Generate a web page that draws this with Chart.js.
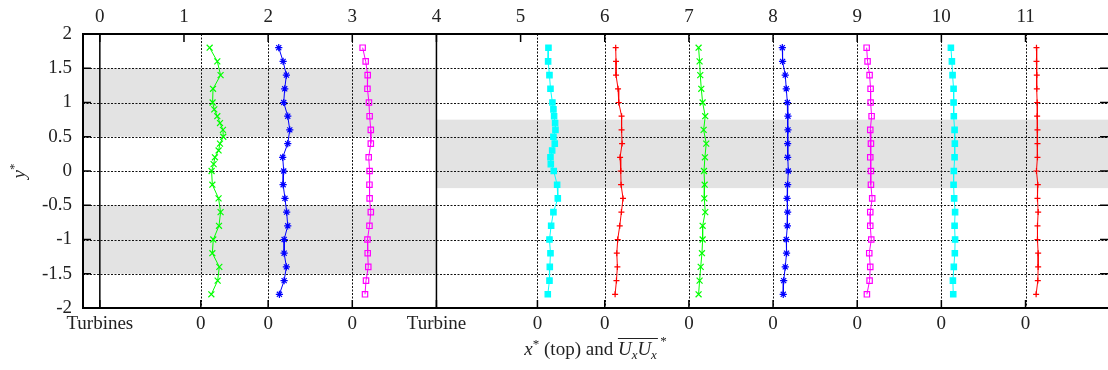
<!DOCTYPE html>
<html>
<head>
<meta charset="utf-8">
<title>Profili</title>
<script src="https://cdn.jsdelivr.net/npm/chart.js@4.4.1/dist/chart.umd.min.js"></script>
<style>
  html, body { margin: 0; padding: 0; background: #fff; }
  #wrapper { width: 1108px; height: 370px; }
</style>
</head>
<body>
<div id="wrapper"><canvas id="grafico" width="1108" height="370"></canvas></div>
<script>
"use strict"

// measuring heights (coarse = every 0.2, fine = 0.1 between 1 and 0)
const yCoarse = [1.8, 1.6, 1.4, 1.2, 1.0, 0.8, 0.6, 0.4, 0.2, 0.0, -0.2, -0.4, -0.6, -0.8, -1.0, -1.2, -1.4, -1.6, -1.8];
const yFine = [1.8, 1.6, 1.4, 1.2, 1.0, 0.9, 0.8, 0.7, 0.6, 0.5, 0.4, 0.3, 0.2, 0.1, 0.0, -0.2, -0.4, -0.6, -0.8, -1.0, -1.2, -1.4, -1.6, -1.8];

// x* of every profile
const stations = [1.2, 2, 3, 5.2, 6, 7, 8, 9, 10, 11];

// UxUx* (added to its station)
const u12 = [0.105, 0.196, 0.235, 0.145, 0.14, 0.16, 0.196, 0.228, 0.263, 0.267, 0.228, 0.211, 0.168, 0.152, 0.128, 0.137, 0.211, 0.235, 0.216, 0.148, 0.137, 0.22, 0.2, 0.125];
const u20 = [0.126, 0.178, 0.217, 0.197, 0.185, 0.233, 0.257, 0.233, 0.173, 0.185, 0.178, 0.2, 0.22, 0.233, 0.19, 0.19, 0.217, 0.19, 0.134];
const u30 = [0.123, 0.159, 0.183, 0.18, 0.198, 0.206, 0.22, 0.22, 0.195, 0.206, 0.204, 0.206, 0.22, 0.204, 0.18, 0.183, 0.19, 0.163, 0.151];
const u52 = [0.131, 0.127, 0.143, 0.155, 0.178, 0.19, 0.198, 0.21, 0.214, 0.19, 0.206, 0.175, 0.155, 0.159, 0.194, 0.234, 0.242, 0.19, 0.163, 0.143, 0.155, 0.147, 0.143, 0.123];
const u60 = [0.13, 0.134, 0.134, 0.158, 0.166, 0.2, 0.2, 0.206, 0.182, 0.19, 0.194, 0.217, 0.198, 0.178, 0.154, 0.143, 0.15, 0.139, 0.123];
const u70 = [0.115, 0.127, 0.135, 0.147, 0.163, 0.194, 0.175, 0.206, 0.19, 0.179, 0.187, 0.183, 0.194, 0.163, 0.163, 0.155, 0.14, 0.127, 0.115];
const u80 = [0.11, 0.113, 0.145, 0.157, 0.17, 0.177, 0.177, 0.173, 0.173, 0.181, 0.173, 0.166, 0.173, 0.17, 0.157, 0.16, 0.145, 0.126, 0.121];
const u90 = [0.112, 0.123, 0.147, 0.159, 0.159, 0.171, 0.155, 0.163, 0.155, 0.163, 0.163, 0.178, 0.155, 0.155, 0.167, 0.143, 0.155, 0.147, 0.115];
const u100 = [0.113, 0.125, 0.133, 0.145, 0.145, 0.148, 0.157, 0.16, 0.157, 0.148, 0.145, 0.152, 0.163, 0.157, 0.163, 0.16, 0.148, 0.137, 0.141];
const u110 = [0.13, 0.13, 0.134, 0.134, 0.138, 0.138, 0.142, 0.142, 0.142, 0.13, 0.146, 0.142, 0.15, 0.142, 0.142, 0.15, 0.15, 0.146, 0.126];

// tick labels
const topTicks = [0, 1, 2, 3, 4, 5, 6, 7, 8, 9, 10, 11];
const bottomTicks = [0, 1.2, 2, 3, 4, 5.2, 6, 7, 8, 9, 10, 11];
const bottomLabels = ["Turbines", "0", "0", "0", "Turbine", "0", "0", "0", "0", "0", "0", "0"];
const yTicks = [2, 1.5, 1, 0.5, 0, -0.5, -1, -1.5, -2];
const yGrid = [1.5, 1, 0.5, 0, -0.5, -1, -1.5];
const turbineLines = [0, 4];

// shaded rotor areas: [x from, x to, y from, y to]
const bands = [[-0.2, 4, 0.5, 1.5], [-0.2, 4, -1.5, -0.5], [4, 12, -0.25, 0.75]];

const FONT = "'Liberation Serif', 'DejaVu Serif', serif";
const TXT = "#222";
const FS = 19;
const XMIN = -0.2, XMAX = 11.98;

let canvas = document.getElementById("grafico");

let profiles = [
    { u: u12, y: yFine, color: "#00ff00", style: "crossRot", r: 4.2 },
    { u: u20, y: yCoarse, color: "#0000ff", style: "star", r: 3.6 },
    { u: u30, y: yCoarse, color: "#ff00ff", style: "rect", r: 3.8, open: true },
    { u: u52, y: yFine, color: "#00ffff", style: "rect", r: 3.8 },
    { u: u60, y: yCoarse, color: "#ff0000", style: "cross", r: 3 },
    { u: u70, y: yCoarse, color: "#00ff00", style: "crossRot", r: 4.2 },
    { u: u80, y: yCoarse, color: "#0000ff", style: "star", r: 3.6 },
    { u: u90, y: yCoarse, color: "#ff00ff", style: "rect", r: 3.8, open: true },
    { u: u100, y: yCoarse, color: "#00ffff", style: "rect", r: 3.8 },
    { u: u110, y: yCoarse, color: "#ff0000", style: "cross", r: 3 }
];

let datasets = [];
profiles.forEach(function (p, i) {
    let pts = [];
    for (let k = 0; k < p.u.length; k++) {
        pts.push({ x: stations[i] + p.u[k], y: p.y[k] });
    }
    datasets.push({
        data: pts,
        showLine: true,
        borderColor: p.color,
        borderWidth: 1,
        pointStyle: p.style,
        pointRadius: p.r,
        pointBorderWidth: 1.2,
        pointBorderColor: p.color,
        pointBackgroundColor: p.open ? "rgba(255,255,255,0)" : p.color
    });
});

function px(v) { return Math.round(v) + 0.5; }

// writes pieces of text one after the other, centered on cx
function scriviPezzi(ctx, pezzi, cx, base) {
    let w = 0;
    for (const p of pezzi) {
        ctx.font = p.font;
        p.w = ctx.measureText(p.t).width;
        w += p.w;
    }
    let x = cx - w / 2;
    for (const p of pezzi) {
        ctx.font = p.font;
        ctx.fillText(p.t, x, base + (p.dy || 0));
        p.x = x;
        x += p.w;
    }
}

// no extra side padding on the x axes, the plot goes to the right edge
function fitX(h) {
    return function (s) {
        s.height = h;
        s.paddingLeft = 0;
        s.paddingRight = 0;
    };
}

const decorazioni = {
    id: "decorazioni",
    beforeDatasetsDraw(chart) {
        const ctx = chart.ctx;
        const a = chart.chartArea;
        const sx = chart.scales.x;
        const sy = chart.scales.y;
        ctx.save();

        ctx.fillStyle = "#e3e3e3";
        for (const b of bands) {
            let l = Math.max(sx.getPixelForValue(b[0]), a.left);
            let r = Math.min(sx.getPixelForValue(b[1]), a.right);
            let t = sy.getPixelForValue(b[3]);
            let bo = sy.getPixelForValue(b[2]);
            ctx.fillRect(l, t, r - l, bo - t);
        }

        // dotted grid
        ctx.strokeStyle = "#111";
        ctx.lineWidth = 1;
        ctx.setLineDash([2, 1.5]);
        for (const v of yGrid) {
            let y = px(sy.getPixelForValue(v));
            ctx.beginPath();
            ctx.moveTo(a.left, y);
            ctx.lineTo(a.right, y);
            ctx.stroke();
        }
        for (const v of stations) {
            let x = px(sx.getPixelForValue(v));
            ctx.beginPath();
            ctx.moveTo(x, a.top);
            ctx.lineTo(x, a.bottom);
            ctx.stroke();
        }
        ctx.setLineDash([]);

        // turbine positions
        ctx.strokeStyle = "#000";
        ctx.lineWidth = 1.5;
        for (const v of turbineLines) {
            let x = sx.getPixelForValue(v);
            ctx.beginPath();
            ctx.moveTo(x, a.top);
            ctx.lineTo(x, a.bottom);
            ctx.stroke();
        }
        ctx.restore();
    },
    afterDatasetsDraw(chart) {
        const ctx = chart.ctx;
        const a = chart.chartArea;
        const sx = chart.scales.x;
        const sy = chart.scales.y;
        ctx.save();
        ctx.strokeStyle = "#000";

        // frame
        ctx.lineWidth = 2;
        ctx.beginPath();
        ctx.moveTo(a.right + 2, a.top);
        ctx.lineTo(a.left, a.top);
        ctx.lineTo(a.left, a.bottom);
        ctx.lineTo(a.right + 2, a.bottom);
        ctx.stroke();

        // inward tick marks
        ctx.lineWidth = 1.5;
        ctx.beginPath();
        for (const v of yTicks) {
            let y = sy.getPixelForValue(v);
            ctx.moveTo(a.left, y);
            ctx.lineTo(a.left + 8, y);
            ctx.moveTo(a.right, y);
            ctx.lineTo(a.right - 8, y);
        }
        for (const v of topTicks) {
            let x = chart.scales.x2.getPixelForValue(v);
            ctx.moveTo(x, a.top);
            ctx.lineTo(x, a.top + 8);
        }
        for (const v of bottomTicks) {
            let x = sx.getPixelForValue(v);
            ctx.moveTo(x, a.bottom);
            ctx.lineTo(x, a.bottom - 8);
        }
        ctx.stroke();
        ctx.restore();
    },
    afterDraw(chart) {
        const ctx = chart.ctx;
        const a = chart.chartArea;
        ctx.save();
        ctx.fillStyle = TXT;
        ctx.textBaseline = "alphabetic";

        // y* title, rotated
        ctx.save();
        ctx.translate(25, (a.top + a.bottom) / 2);
        ctx.rotate(-Math.PI / 2);
        scriviPezzi(ctx, [
            { t: "y", font: "italic " + FS + "px " + FONT },
            { t: "*", font: "13px " + FONT, dy: -7 }
        ], 0, 0);
        ctx.restore();

        // x title
        let pezzi = [
            { t: "x", font: "italic " + FS + "px " + FONT },
            { t: "*", font: "13px " + FONT, dy: -7 },
            { t: " (top) and ", font: FS + "px " + FONT },
            { t: "U", font: "italic " + FS + "px " + FONT },
            { t: "x", font: "italic 13px " + FONT, dy: 4 },
            { t: "U", font: "italic " + FS + "px " + FONT },
            { t: "x", font: "italic 13px " + FONT, dy: 4 },
            { t: " *", font: "13px " + FONT, dy: -10 }
        ];
        let base = 355;
        scriviPezzi(ctx, pezzi, (a.left + a.right) / 2, base);
        ctx.strokeStyle = TXT;
        ctx.lineWidth = 1;
        ctx.beginPath();
        ctx.moveTo(pezzi[3].x, px(base - 17));
        ctx.lineTo(pezzi[6].x + pezzi[6].w + 1, px(base - 17));
        ctx.stroke();
        ctx.restore();
    }
};

let chart = new Chart(canvas, {
    type: "scatter",
    data: { datasets: datasets },
    options: {
        responsive: false,
        animation: false,
        layout: { padding: 0, autoPadding: false },
        plugins: {
            legend: { display: false },
            tooltip: { enabled: false }
        },
        scales: {
            x: {
                type: "linear",
                position: "bottom",
                min: XMIN,
                max: XMAX,
                grid: { display: false, drawTicks: false },
                border: { display: false },
                afterBuildTicks: function (s) { s.ticks = bottomTicks.map(v => ({ value: v })); },
                afterFit: fitX(62),
                ticks: {
                    autoSkip: false,
                    maxRotation: 0,
                    padding: 5,
                    color: TXT,
                    font: { family: FONT, size: FS },
                    callback: function (v, i) { return bottomLabels[i]; }
                }
            },
            x2: {
                type: "linear",
                position: "top",
                min: XMIN,
                max: XMAX,
                grid: { display: false, drawTicks: false },
                border: { display: false },
                afterBuildTicks: function (s) { s.ticks = topTicks.map(v => ({ value: v })); },
                afterFit: fitX(34),
                ticks: {
                    autoSkip: false,
                    maxRotation: 0,
                    padding: 6,
                    color: TXT,
                    font: { family: FONT, size: FS },
                    callback: function (v) { return String(v); }
                }
            },
            y: {
                min: -2,
                max: 2,
                grid: { display: false, drawTicks: false },
                border: { display: false },
                afterBuildTicks: function (s) { s.ticks = yTicks.map(v => ({ value: v })); },
                afterFit: function (s) { s.width = 83; },
                ticks: {
                    autoSkip: false,
                    padding: 11,
                    color: TXT,
                    font: { family: FONT, size: FS },
                    callback: function (v) { return String(v); }
                }
            }
        }
    },
    plugins: [decorazioni]
});
</script>
</body>
</html>
